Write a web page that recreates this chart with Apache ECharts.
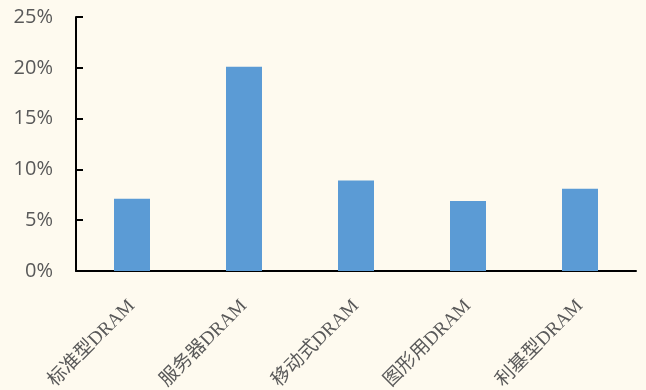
<!DOCTYPE html>
<html><head><meta charset="utf-8">
<script src="https://cdn.jsdelivr.net/npm/echarts@6/dist/echarts.min.js"></script>
<style>html,body{margin:0;padding:0;background:#FEFAEF}#c{width:646px;height:390px}</style>
</head><body><div id="c"></div>
<script>
const categories = ['标准型DRAM','服务器DRAM','移动式DRAM','图形用DRAM','利基型DRAM'];
const values = [7.1, 20.1, 8.9, 6.9, 8.1];
const yTicks = {min: 0, max: 25, interval: 5};

const chart = echarts.init(document.getElementById('c'));
chart.setOption({
  backgroundColor: '#FEFAEF',
  animation: false,
  grid: {left: 76, right: 10, top: 17, bottom: 119, containLabel: false, outerBoundsMode: 'none'},
  xAxis: {
    type: 'category', data: categories, boundaryGap: true,
    axisLine: {lineStyle: {color: '#000', width: 2}},
    axisTick: {inside: true, length: 5, lineStyle: {color: '#000', width: 2}},
    axisLabel: {rotate: 45, margin: 32, color: '#595959', fontSize: 19,
      fontFamily: '"Liberation Serif", "Noto Sans CJK SC", serif', interval: 0}
  },
  yAxis: {
    type: 'value', min: yTicks.min, max: yTicks.max, interval: yTicks.interval,
    splitLine: {show: false},
    axisLine: {show: true, lineStyle: {color: '#000', width: 2}},
    axisTick: {show: true, inside: true, length: 7, lineStyle: {color: '#000', width: 2}},
    axisLabel: {formatter: '{value}%', color: '#595959', fontSize: 20, margin: 23,
      fontFamily: '"Open Sans", "Liberation Sans", sans-serif'}
  },
  series: [{type: 'bar', data: values, barWidth: 36, itemStyle: {color: '#5B9BD5'}}]
});
</script></body></html>
